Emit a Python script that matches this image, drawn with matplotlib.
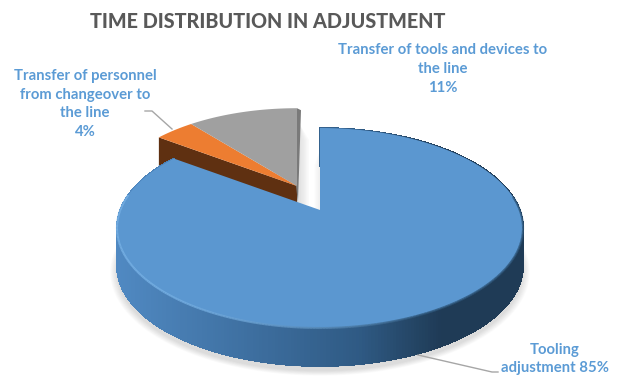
import numpy as np
import matplotlib
matplotlib.use("Agg")
import matplotlib.pyplot as plt
from matplotlib.patches import Polygon
from matplotlib.collections import LineCollection, PolyCollection

title = "TIME DISTRIBUTION IN ADJUSTMENT"
shares = [85, 4, 11]
slice_names = ["Tooling\nadjustment 85%",
               "Transfer of personnel\nfrom changeover to\nthe line\n4%",
               "Transfer of tools and devices to\nthe line\n11%"]
top_colors = ["#5B97D0", "#ED7D31", "#A0A0A0"]

W, H = 618, 378
fig = plt.figure(figsize=(W / 100, H / 100), dpi=100)
ax = fig.add_axes([0, 0, 1, 1])
ax.set_xlim(0, W)
ax.set_ylim(H, 0)
ax.axis("off")

# Perspective disc: angles run clockwise from the top of the pie.
K = 0.18
A = 199.7
B = 96.76
DEPTH = 38


def project(theta, r=1.0, apex=(320, 210)):
    x = r * np.sin(theta)
    y = r * np.cos(theta)
    w = 1 + K * y
    return apex[0] + A * x / w, apex[1] - B * y / w


def mix(c1, c2, t):
    c1, c2 = np.array(matplotlib.colors.to_rgb(c1)), np.array(matplotlib.colors.to_rgb(c2))
    return tuple(c1 + (c2 - c1) * t)


edges = np.deg2rad(np.concatenate([[0], np.cumsum(shares)]) * 3.6)

# Soft shadow beneath the pie
full = np.linspace(0, 2 * np.pi, 240)
for i in range(9):
    sx, sy = project(full, r=1.0 + 0.004 * (8 - i))
    ax.add_patch(Polygon(np.c_[sx, sy + DEPTH + 5], fc="#808080", ec="none",
                         alpha=0.03, zorder=1))

# The two smaller slices are pulled apart from the large one
small_apex = (297, 186)
small_r = 0.94

# White gap between the slices, with faint shadows fading off both walls
gap = [(298, 108), (320, 110), (320, 212), (298, 204)]
ax.add_patch(Polygon(gap, fc="white", ec="none", zorder=1.4))
for i in range(6):
    ax.add_patch(Polygon([(300, 125), (301 + i * 1.6, 140), (301 + i * 1.6, 205), (298, 204)],
                         fc="#707070", ec="none", alpha=0.03, zorder=1.5))
    ax.add_patch(Polygon([(320, 150), (320 - i * 1.1, 165), (320 - i * 1.1, 211), (320, 211)],
                         fc="#707070", ec="none", alpha=0.018, zorder=1.5))

# Orange slice cut face
cx, cy = project(edges[1], small_r, small_apex)
ax.add_patch(Polygon([small_apex, (cx, cy), (cx, cy + DEPTH), (small_apex[0], small_apex[1] + DEPTH)],
                     fc="#5F3011", ec="none", zorder=2))
# Gray slice cut face
gx, gy = project(edges[3], small_r, small_apex)
ax.add_patch(Polygon([(small_apex[0] - 1, small_apex[1]), (gx, gy), (gx + 4, gy + 2),
                      (small_apex[0] + 1, small_apex[1] + 17)],
                     fc="#7A7A7A", ec="none", zorder=2))

for i in (1, 2):
    t = np.linspace(edges[i], edges[i + 1], 40)
    px, py = project(t, small_r, small_apex)
    ax.add_patch(Polygon(np.r_[[small_apex], np.c_[px, py]], fc=top_colors[i], ec="none", zorder=3))

# Blue slice: side wall as shaded strips, then the top face
t = np.linspace(edges[0], edges[1], 400)
px, py = project(t)
quads, cols, lower = [], [], []
for j in range(len(t) - 1):
    quads.append([(px[j], py[j]), (px[j + 1], py[j + 1]),
                  (px[j + 1], py[j + 1] + DEPTH), (px[j], py[j] + DEPTH)])
    lower.append([(px[j], py[j] + DEPTH), (px[j + 1], py[j + 1] + DEPTH)])
    u = np.clip((px[j] - 117) / 405, 0, 1)
    if u < 0.6:
        cols.append(mix("#5089C2", "#2F5A84", u / 0.6))
    else:
        cols.append(mix("#2F5A84", "#1F3B56", min((u - 0.6) / 0.2, 1)))
ax.add_collection(PolyCollection(quads, facecolors=cols, edgecolors=cols, linewidths=0.6,
                                 antialiaseds=False, zorder=4))
ax.add_collection(LineCollection(lower, colors=cols, linewidths=0.8, zorder=4))

ax.add_patch(Polygon(np.r_[[(320, 210)], np.c_[px, py]], fc=top_colors[0], ec="none", zorder=5))

# Bevel along the front rim of the top face
segs, seg_cols = [], []
for j in range(len(t) - 1):
    if np.cos(t[j]) > 0.15:
        continue
    segs.append([(px[j], py[j]), (px[j + 1], py[j + 1])])
    u = np.clip((px[j] - 117) / 405, 0, 1)
    seg_cols.append(mix("#78B2E6", "#2E5578", min(u / 0.75, 1) ** 2))
ax.add_collection(LineCollection(segs, colors=seg_cols, linewidths=1.5, alpha=0.8, zorder=6))

# Leader lines
ax.plot([145, 152, 172], [111, 111, 129], color="#A6A6A6", lw=1, zorder=7)
ax.plot([418, 492, 498], [355, 372, 372], color="#A6A6A6", lw=1, zorder=7)

# Title and labels
ax.text(268, 22, title, ha="center", va="center", fontsize=14.2, fontweight="black",
        color="#595959", family="Lato")
lab = dict(ha="center", va="center", fontsize=10.7, fontweight="bold", color="#5B9BD5",
           family="Lato", linespacing=1.42)
ax.text(555, 359, slice_names[0], **lab)
ax.text(85, 104, slice_names[1], **lab)
ax.text(443, 69, slice_names[2], **lab)

fig.savefig("out.png", dpi=100)
